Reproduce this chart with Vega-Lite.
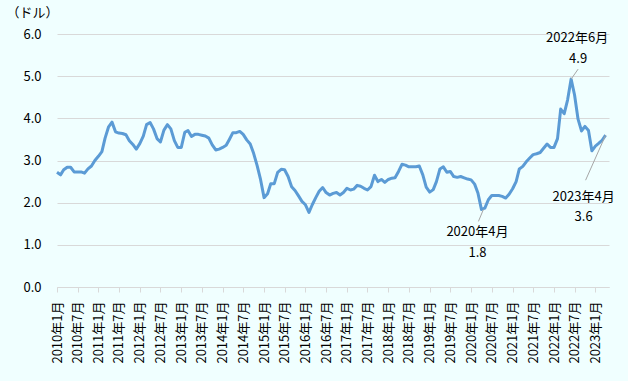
{
  "$schema": "https://vega.github.io/schema/vega-lite/v6.json",
  "width": 552,
  "height": 253,
  "autosize": "none",
  "padding": {"left": 57, "top": 34, "right": 19, "bottom": 94},
  "background": "#f0ffff",
  "config": {
    "view": {"stroke": null},
    "font": "Noto Sans CJK JP",
    "axis": {"labelFont": "Noto Sans CJK JP", "titleFont": "Noto Sans CJK JP", "labelColor": "#000000", "titleColor": "#000000"}
  },
  "data": {
    "values": [
      {"date": "2010-01-01", "price": 2.72}, {"date": "2010-02-01", "price": 2.66}, {"date": "2010-03-01", "price": 2.78}, {"date": "2010-04-01", "price": 2.84}, {"date": "2010-05-01", "price": 2.84}, {"date": "2010-06-01", "price": 2.73}, {"date": "2010-07-01", "price": 2.73}, {"date": "2010-08-01", "price": 2.73}, {"date": "2010-09-01", "price": 2.70}, {"date": "2010-10-01", "price": 2.80}, {"date": "2010-11-01", "price": 2.87}, {"date": "2010-12-01", "price": 3.00},
      {"date": "2011-01-01", "price": 3.10}, {"date": "2011-02-01", "price": 3.21}, {"date": "2011-03-01", "price": 3.53}, {"date": "2011-04-01", "price": 3.80}, {"date": "2011-05-01", "price": 3.91}, {"date": "2011-06-01", "price": 3.68}, {"date": "2011-07-01", "price": 3.65}, {"date": "2011-08-01", "price": 3.64}, {"date": "2011-09-01", "price": 3.61}, {"date": "2011-10-01", "price": 3.47}, {"date": "2011-11-01", "price": 3.38}, {"date": "2011-12-01", "price": 3.27},
      {"date": "2012-01-01", "price": 3.40}, {"date": "2012-02-01", "price": 3.58}, {"date": "2012-03-01", "price": 3.85}, {"date": "2012-04-01", "price": 3.90}, {"date": "2012-05-01", "price": 3.75}, {"date": "2012-06-01", "price": 3.52}, {"date": "2012-07-01", "price": 3.44}, {"date": "2012-08-01", "price": 3.72}, {"date": "2012-09-01", "price": 3.85}, {"date": "2012-10-01", "price": 3.75}, {"date": "2012-11-01", "price": 3.47}, {"date": "2012-12-01", "price": 3.31},
      {"date": "2013-01-01", "price": 3.31}, {"date": "2013-02-01", "price": 3.67}, {"date": "2013-03-01", "price": 3.71}, {"date": "2013-04-01", "price": 3.57}, {"date": "2013-05-01", "price": 3.62}, {"date": "2013-06-01", "price": 3.62}, {"date": "2013-07-01", "price": 3.60}, {"date": "2013-08-01", "price": 3.58}, {"date": "2013-09-01", "price": 3.53}, {"date": "2013-10-01", "price": 3.37}, {"date": "2013-11-01", "price": 3.25}, {"date": "2013-12-01", "price": 3.27},
      {"date": "2014-01-01", "price": 3.31}, {"date": "2014-02-01", "price": 3.36}, {"date": "2014-03-01", "price": 3.50}, {"date": "2014-04-01", "price": 3.66}, {"date": "2014-05-01", "price": 3.66}, {"date": "2014-06-01", "price": 3.69}, {"date": "2014-07-01", "price": 3.62}, {"date": "2014-08-01", "price": 3.49}, {"date": "2014-09-01", "price": 3.39}, {"date": "2014-10-01", "price": 3.17}, {"date": "2014-11-01", "price": 2.88}, {"date": "2014-12-01", "price": 2.55},
      {"date": "2015-01-01", "price": 2.12}, {"date": "2015-02-01", "price": 2.21}, {"date": "2015-03-01", "price": 2.45}, {"date": "2015-04-01", "price": 2.45}, {"date": "2015-05-01", "price": 2.72}, {"date": "2015-06-01", "price": 2.79}, {"date": "2015-07-01", "price": 2.78}, {"date": "2015-08-01", "price": 2.62}, {"date": "2015-09-01", "price": 2.38}, {"date": "2015-10-01", "price": 2.29}, {"date": "2015-11-01", "price": 2.16}, {"date": "2015-12-01", "price": 2.03},
      {"date": "2016-01-01", "price": 1.95}, {"date": "2016-02-01", "price": 1.77}, {"date": "2016-03-01", "price": 1.95}, {"date": "2016-04-01", "price": 2.12}, {"date": "2016-05-01", "price": 2.27}, {"date": "2016-06-01", "price": 2.36}, {"date": "2016-07-01", "price": 2.24}, {"date": "2016-08-01", "price": 2.18}, {"date": "2016-09-01", "price": 2.22}, {"date": "2016-10-01", "price": 2.24}, {"date": "2016-11-01", "price": 2.18}, {"date": "2016-12-01", "price": 2.24},
      {"date": "2017-01-01", "price": 2.34}, {"date": "2017-02-01", "price": 2.30}, {"date": "2017-03-01", "price": 2.32}, {"date": "2017-04-01", "price": 2.41}, {"date": "2017-05-01", "price": 2.39}, {"date": "2017-06-01", "price": 2.34}, {"date": "2017-07-01", "price": 2.30}, {"date": "2017-08-01", "price": 2.38}, {"date": "2017-09-01", "price": 2.65}, {"date": "2017-10-01", "price": 2.50}, {"date": "2017-11-01", "price": 2.55}, {"date": "2017-12-01", "price": 2.48},
      {"date": "2018-01-01", "price": 2.55}, {"date": "2018-02-01", "price": 2.58}, {"date": "2018-03-01", "price": 2.59}, {"date": "2018-04-01", "price": 2.74}, {"date": "2018-05-01", "price": 2.91}, {"date": "2018-06-01", "price": 2.89}, {"date": "2018-07-01", "price": 2.85}, {"date": "2018-08-01", "price": 2.85}, {"date": "2018-09-01", "price": 2.85}, {"date": "2018-10-01", "price": 2.87}, {"date": "2018-11-01", "price": 2.66}, {"date": "2018-12-01", "price": 2.37},
      {"date": "2019-01-01", "price": 2.25}, {"date": "2019-02-01", "price": 2.31}, {"date": "2019-03-01", "price": 2.50}, {"date": "2019-04-01", "price": 2.80}, {"date": "2019-05-01", "price": 2.85}, {"date": "2019-06-01", "price": 2.72}, {"date": "2019-07-01", "price": 2.74}, {"date": "2019-08-01", "price": 2.62}, {"date": "2019-09-01", "price": 2.60}, {"date": "2019-10-01", "price": 2.62}, {"date": "2019-11-01", "price": 2.59}, {"date": "2019-12-01", "price": 2.56},
      {"date": "2020-01-01", "price": 2.54}, {"date": "2020-02-01", "price": 2.44}, {"date": "2020-03-01", "price": 2.23}, {"date": "2020-04-01", "price": 1.84}, {"date": "2020-05-01", "price": 1.87}, {"date": "2020-06-01", "price": 2.07}, {"date": "2020-07-01", "price": 2.17}, {"date": "2020-08-01", "price": 2.17}, {"date": "2020-09-01", "price": 2.17}, {"date": "2020-10-01", "price": 2.15}, {"date": "2020-11-01", "price": 2.11}, {"date": "2020-12-01", "price": 2.20},
      {"date": "2021-01-01", "price": 2.33}, {"date": "2021-02-01", "price": 2.50}, {"date": "2021-03-01", "price": 2.80}, {"date": "2021-04-01", "price": 2.86}, {"date": "2021-05-01", "price": 2.97}, {"date": "2021-06-01", "price": 3.06}, {"date": "2021-07-01", "price": 3.14}, {"date": "2021-08-01", "price": 3.16}, {"date": "2021-09-01", "price": 3.19}, {"date": "2021-10-01", "price": 3.29}, {"date": "2021-11-01", "price": 3.39}, {"date": "2021-12-01", "price": 3.31},
      {"date": "2022-01-01", "price": 3.31}, {"date": "2022-02-01", "price": 3.52}, {"date": "2022-03-01", "price": 4.22}, {"date": "2022-04-01", "price": 4.11}, {"date": "2022-05-01", "price": 4.44}, {"date": "2022-06-01", "price": 4.93}, {"date": "2022-07-01", "price": 4.56}, {"date": "2022-08-01", "price": 3.98}, {"date": "2022-09-01", "price": 3.70}, {"date": "2022-10-01", "price": 3.81}, {"date": "2022-11-01", "price": 3.71}, {"date": "2022-12-01", "price": 3.23},
      {"date": "2023-01-01", "price": 3.34}, {"date": "2023-02-01", "price": 3.41}, {"date": "2023-03-01", "price": 3.48}, {"date": "2023-04-01", "price": 3.60}
    ]
  },
  "encoding": {
    "x": {
      "field": "date",
      "type": "temporal",
      "scale": {"type": "utc", "domain": ["2010-01-01", "2023-05-01"]},
      "axis": {
        "title": null,
        "labelExpr": "utcFormat(datum.value, '%Y年%-m月')",
        "tickCount": {"interval": "month", "step": 6},
        "labelAngle": -90,
        "labelFontSize": 13,
        "labelPadding": 9,
        "labelOverlap": false,
        "labelFlush": false,
        "grid": false,
        "domainColor": "#d9d9d9",
        "tickColor": "#d9d9d9",
        "tickSize": 5
      }
    },
    "y": {
      "field": "price",
      "type": "quantitative",
      "scale": {"domain": [0, 6], "nice": false},
      "axis": {
        "title": "（ドル）",
        "titleAngle": 0,
        "titleAlign": "left",
        "titleBaseline": "middle",
        "titleX": -51,
        "titleY": -22,
        "titleFontSize": 13,
        "titleFontWeight": "normal",
        "values": [0, 1, 2, 3, 4, 5, 6],
        "format": ".1f",
        "labelFontSize": 13,
        "labelPadding": 16,
        "domain": false,
        "ticks": false,
        "gridColor": "#d9d9d9",
        "gridWidth": 1
      }
    }
  },
  "layer": [
    {
      "mark": {"type": "line", "color": "#5b9bd5", "strokeWidth": 3, "strokeJoin": "round"}
    },
    {
      "transform": [{"filter": "utcyear(datum.date) == 2022 && utcmonth(datum.date) == 5"}],
      "layer": [
        {"mark": {"type": "rule", "color": "#a6a6a6", "strokeWidth": 1, "x2Offset": 7, "y2Offset": -10}, "encoding": {"x2": {"field": "date"}, "y2": {"field": "price"}}},
        {"mark": {"type": "text", "text": "2022年6月", "fontSize": 13, "dx": 6, "dy": -41, "align": "center", "baseline": "middle", "color": "#000000"}},
        {"mark": {"type": "text", "text": "4.9", "fontSize": 13, "dx": 7, "dy": -20, "align": "center", "baseline": "middle", "color": "#000000"}}
      ]
    },
    {
      "transform": [{"filter": "utcyear(datum.date) == 2020 && utcmonth(datum.date) == 3"}],
      "layer": [
        {"mark": {"type": "rule", "color": "#a6a6a6", "strokeWidth": 1, "xOffset": 2, "x2Offset": -3, "y2Offset": 12}, "encoding": {"x2": {"field": "date"}, "y2": {"field": "price"}}},
        {"mark": {"type": "text", "text": "2020年4月", "fontSize": 13, "dx": -4, "dy": 23, "align": "center", "baseline": "middle", "color": "#000000"}},
        {"mark": {"type": "text", "text": "1.8", "fontSize": 13, "dx": -4, "dy": 44, "align": "center", "baseline": "middle", "color": "#000000"}}
      ]
    },
    {
      "transform": [{"filter": "utcyear(datum.date) == 2023 && utcmonth(datum.date) == 3"}],
      "layer": [
        {"mark": {"type": "rule", "color": "#a6a6a6", "strokeWidth": 1, "x2Offset": -20, "y2Offset": 45}, "encoding": {"x2": {"field": "date"}, "y2": {"field": "price"}}},
        {"mark": {"type": "text", "text": "2023年4月", "fontSize": 13, "dx": -22, "dy": 62, "align": "center", "baseline": "middle", "color": "#000000"}},
        {"mark": {"type": "text", "text": "3.6", "fontSize": 13, "dx": -22, "dy": 82, "align": "center", "baseline": "middle", "color": "#000000"}}
      ]
    }
  ]
}
